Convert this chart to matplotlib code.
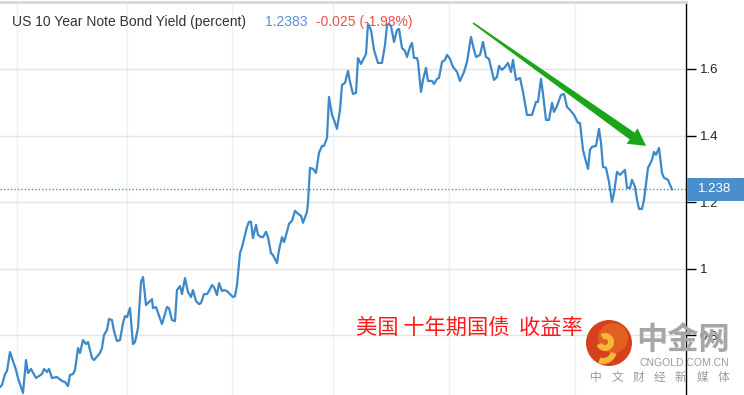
import matplotlib
matplotlib.use("Agg")
import matplotlib.pyplot as plt
import numpy as np
from matplotlib.patches import Rectangle, Circle, Wedge, Polygon
from matplotlib.transforms import IdentityTransform

# session index (arbitrary time units) and 10y yield in percent
t = [0, 2, 5, 7, 10, 12, 16, 18, 23, 26, 28, 31, 36, 42, 44, 47, 49, 52, 57, 62,
     65, 68, 70, 73, 75, 78, 80, 83, 86, 88, 92, 94, 100, 102, 104, 107, 109, 112, 114, 117,
     120, 123, 125, 127, 130, 133, 135, 138, 141, 143, 146, 148, 152, 153, 156, 162, 167, 169, 172, 175,
     177, 180, 182, 185, 188, 191, 193, 196, 199, 201, 204, 207, 209, 212, 214, 217, 219, 222, 224, 227,
     231, 233, 235, 237, 240, 242, 247, 249, 251, 253, 256, 258, 261, 263, 266, 268, 271, 273, 277, 279,
     282, 284, 287, 289, 292, 295, 298, 301, 303, 307, 308, 310, 313, 316, 319, 322, 324, 327, 329, 332,
     334, 337, 340, 342, 345, 348, 350, 353, 356, 358, 361, 363, 366, 368, 371, 374, 378, 382, 385, 387,
     389, 391, 394, 397, 399, 402, 405, 407, 410, 412, 414, 417, 418, 421, 423, 426, 428, 432, 434, 437,
     439, 442, 445, 447, 450, 453, 457, 460, 464, 467, 471, 474, 476, 480, 483, 486, 489, 494, 497, 499,
     502, 505, 508, 511, 513, 516, 520, 523, 527, 532, 536, 538, 541, 543, 546, 549, 552, 554, 557, 561,
     564, 567, 570, 574, 578, 580, 583, 585, 588, 590, 592, 596, 599, 601, 603, 606, 609, 612, 614, 617,
     620, 625, 627, 630, 632, 635, 637, 639, 642, 644, 648, 652, 654, 656, 659, 662, 664, 668, 672]
yld = [0.645, 0.651, 0.684, 0.693, 0.750, 0.732, 0.696, 0.672, 0.627, 0.726, 0.687, 0.699, 0.672, 0.684, 0.699, 0.690, 0.699, 0.672, 0.675, 0.663,
       0.660, 0.648, 0.681, 0.684, 0.696, 0.762, 0.747, 0.786, 0.774, 0.780, 0.732, 0.726, 0.747, 0.762, 0.801, 0.816, 0.849, 0.846, 0.813, 0.783,
       0.786, 0.837, 0.858, 0.855, 0.882, 0.774, 0.780, 0.822, 0.960, 0.975, 0.891, 0.897, 0.909, 0.882, 0.885, 0.834, 0.885, 0.882, 0.846, 0.843,
       0.936, 0.948, 0.924, 0.972, 0.930, 0.915, 0.936, 0.903, 0.894, 0.897, 0.924, 0.924, 0.933, 0.951, 0.945, 0.921, 0.957, 0.933, 0.936, 0.933,
       0.921, 0.915, 0.918, 0.951, 1.047, 1.065, 1.126, 1.141, 1.141, 1.092, 1.132, 1.102, 1.095, 1.095, 1.111, 1.095, 1.047, 1.041, 1.017, 1.056,
       1.095, 1.080, 1.111, 1.135, 1.144, 1.174, 1.165, 1.159, 1.138, 1.171, 1.198, 1.303, 1.300, 1.288, 1.348, 1.369, 1.369, 1.393, 1.516, 1.462,
       1.447, 1.420, 1.477, 1.552, 1.558, 1.594, 1.561, 1.525, 1.528, 1.633, 1.615, 1.627, 1.645, 1.735, 1.717, 1.657, 1.618, 1.618, 1.672, 1.732,
       1.735, 1.729, 1.681, 1.717, 1.720, 1.663, 1.654, 1.636, 1.666, 1.678, 1.633, 1.633, 1.621, 1.531, 1.567, 1.603, 1.564, 1.564, 1.555, 1.570,
       1.573, 1.621, 1.627, 1.642, 1.630, 1.606, 1.591, 1.564, 1.591, 1.621, 1.696, 1.657, 1.636, 1.642, 1.681, 1.636, 1.630, 1.567, 1.576, 1.609,
       1.597, 1.606, 1.618, 1.591, 1.627, 1.567, 1.573, 1.531, 1.462, 1.462, 1.501, 1.501, 1.570, 1.525, 1.447, 1.447, 1.498, 1.471, 1.489, 1.522,
       1.525, 1.486, 1.477, 1.462, 1.438, 1.438, 1.357, 1.333, 1.300, 1.357, 1.366, 1.369, 1.420, 1.378, 1.306, 1.303, 1.261, 1.201, 1.228, 1.291,
       1.282, 1.297, 1.243, 1.243, 1.267, 1.246, 1.207, 1.180, 1.180, 1.207, 1.303, 1.327, 1.351, 1.342, 1.363, 1.288, 1.273, 1.267, 1.2383]

last = 1.2383
change = "-0.025 (-1.98%)"
yticks = [0.8, 1.0, 1.2, 1.4, 1.6]
ytick_labels = ["0.8", "1", "1.2", "1.4", "1.6"]
xgrid = [17, 127, 232, 333, 449, 575]
# green trend arrow (start/end in session, yield)
arrow_from = (473, 1.738)
arrow_to = (646, 1.369)

W, H = 744, 395
fig = plt.figure(figsize=(W / 100, H / 100), dpi=100)
ax = fig.add_axes([0, 0, 686 / W, 393 / H])

ax.plot(t, yld, color="#3d88c8", lw=1.6, solid_joinstyle="round", zorder=3)
ax.axhline(last, color="#4a8fcb", lw=1, ls=(0, (1, 1.5)), zorder=2)

ax.set_xlim(0, 686)
ax.set_ylim(0.621, 1.801)

for x in xgrid:
    ax.axvline(x, color="#edf1f5", lw=1, zorder=0)
for y in yticks:
    ax.axhline(y, color="#e4e4e4", lw=1, zorder=0)

ax.set_xticks([])
ax.set_yticks(yticks)
ax.set_yticklabels(ytick_labels)
ax.yaxis.tick_right()
ax.tick_params(axis="y", direction="out", length=7, width=1, color="black",
               pad=3, labelsize=9.5, labelcolor="#222222")
for lbl in ax.get_yticklabels():
    lbl.set_family(["Liberation Sans", "DejaVu Sans"])
for side in ["left", "bottom"]:
    ax.spines[side].set_visible(False)
ax.spines["right"].set_color("black")
ax.spines["right"].set_linewidth(1)
ax.spines["top"].set_color("#d8d8d8")
ax.spines["top"].set_linewidth(2)

fig.canvas.draw()

# trend arrow: tapered shaft built in pixel space
p0 = ax.transData.transform(arrow_from)
p1 = ax.transData.transform(arrow_to)
u = (p1 - p0) / np.linalg.norm(p1 - p0)
n = np.array([-u[1], u[0]])
hb = p1 - u * 17
shape = [p0 + n * 0.8, hb + n * 4.2, hb + n * 9.5, p1,
         hb - n * 9.5, hb - n * 4.2, p0 - n * 0.8]
fig.add_artist(Polygon(shape, closed=True, transform=IdentityTransform(),
                       facecolor="#1aa51a", edgecolor="none", zorder=4))

# header texts
font = ["Liberation Sans", "DejaVu Sans"]
fig.text(12 / W, 1 - 22 / H, "US 10 Year Note Bond Yield (percent)", fontsize=10,
         color="#333333", va="center", family=font)
fig.text(265 / W, 1 - 22 / H, f"{last:.4f}", fontsize=10, color="#5b8fd0",
         va="center", family=font)
fig.text(316 / W, 1 - 22 / H, change, fontsize=10, color="#e8504f",
         va="center", family=font)

# last price box on the axis
ypix = ax.transData.transform((0, last))[1]
fig.add_artist(Rectangle((687, ypix - 11.5), 57, 23, transform=IdentityTransform(),
                         facecolor="#4a8fcb", edgecolor="none", zorder=5))
fig.text(715 / W, ypix / H, f"{last:.3f}", color="white", fontsize=9.5,
         ha="center", va="center", family=font, zorder=6)

# chinese caption
cjk = ["Noto Sans CJK SC", "DejaVu Sans"]
fig.text(356 / W, 1 - 328 / H, "美国 十年期国债  收益率", color="#ff1a1a",
         fontsize=15.3, va="center", family=cjk)

# watermark logo
fig.add_artist(Circle((609, H - 343), 23, transform=IdentityTransform(),
                      facecolor="#d6401d", edgecolor="none", zorder=5))
fig.add_artist(Circle((613, H - 338), 15, transform=IdentityTransform(),
                      facecolor="#e2601f", edgecolor="none", zorder=5))
fig.add_artist(Wedge((605, H - 342), 9, 200, 120, width=6, transform=IdentityTransform(),
                     facecolor="#f6b73a", edgecolor="none", zorder=6))
fig.add_artist(Wedge((603, H - 350), 14, 250, 345, width=6, transform=IdentityTransform(),
                     facecolor="#f6b73a", edgecolor="none", zorder=6))
fig.text(683 / W, 1 - 340 / H, "中金网", color="#a6a6a6", fontsize=22.5,
         fontweight="bold", ha="center", va="center", family=cjk, zorder=6)
fig.text(684 / W, 1 - 363 / H, "CNGOLD.COM.CN", color="#9a9a9a", fontsize=7.5,
         ha="center", va="center", family=font, zorder=6)
for i, ch in enumerate("中文财经新媒体"):
    fig.text((596 + i * 21.2) / W, 1 - 377 / H, ch, color="#9a9a9a", fontsize=8.5,
             ha="center", va="center", family=cjk, zorder=6)

fig.savefig("out.png", dpi=100)
